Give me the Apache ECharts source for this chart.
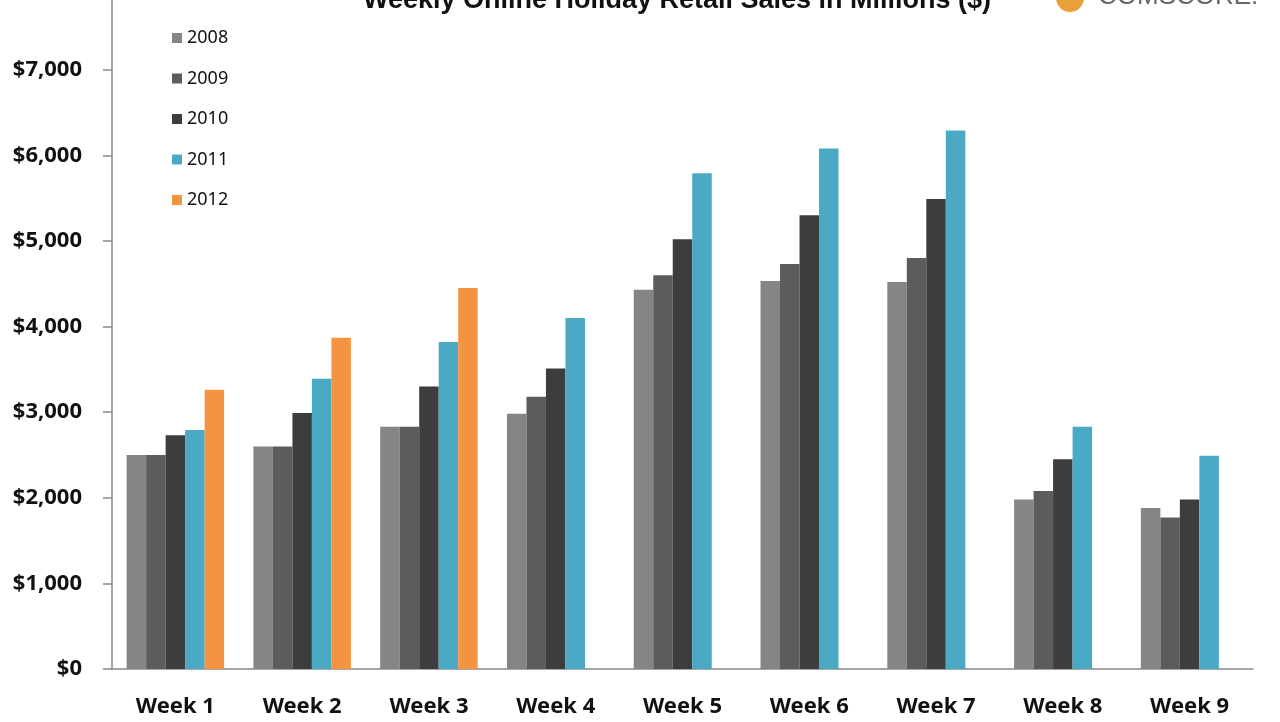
<!DOCTYPE html>
<html lang="en">
<head>
    <meta charset="UTF-8">
    <title>Weekly Online Holiday Retail Sales</title>
    <script src="https://cdn.jsdelivr.net/npm/echarts@6/dist/echarts.min.js"></script>
    <style>
        html, body { margin: 0; padding: 0; background: #fff; }
        #chart { width: 1280px; height: 722px; }
    </style>
</head>
<body>
    <div id="chart"></div>
    <script>
        // data (millions of $)
        var weeks = ['Week 1', 'Week 2', 'Week 3', 'Week 4', 'Week 5', 'Week 6', 'Week 7', 'Week 8', 'Week 9'];
        var years = ['2008', '2009', '2010', '2011', '2012'];
        var sales2008 = [2500, 2600, 2830, 2980, 4430, 4530, 4520, 1980, 1880];
        var sales2009 = [2500, 2600, 2830, 3180, 4600, 4730, 4800, 2080, 1770];
        var sales2010 = [2730, 2990, 3300, 3510, 5020, 5300, 5490, 2450, 1980];
        var sales2011 = [2790, 3390, 3820, 4100, 5790, 6080, 6290, 2830, 2490];
        var sales2012 = [3260, 3870, 4450, null, null, null, null, null, null];
        var yTicks = [0, 1000, 2000, 3000, 4000, 5000, 6000, 7000, 8000];

        var colors = ['#858585', '#5c5c5c', '#3d3d3d', '#4aa9c4', '#f59440'];
        var allSales = [sales2008, sales2009, sales2010, sales2011, sales2012];

        var chart = echarts.init(document.getElementById('chart'));

        var series = years.map(function (y, i) {
            return {
                name: y,
                type: 'bar',
                data: allSales[i],
                barWidth: 19.5,
                barGap: '0%',
                itemStyle: { color: colors[i] }
            };
        });

        chart.setOption({
            animation: false,
            color: colors,
            title: {
                text: 'Weekly Online Holiday Retail Sales in Millions ($)',
                left: 672,
                textAlign: 'center',
                top: -18,
                textStyle: { fontFamily: 'Liberation Sans', fontWeight: 'bold', fontSize: 27, color: '#111' }
            },
            legend: {
                orient: 'vertical',
                left: 167,
                top: 23,
                icon: 'rect',
                itemWidth: 10,
                itemHeight: 10,
                itemGap: 20.5,
                data: years,
                textStyle: { fontFamily: 'Noto Sans', fontSize: 18, color: '#111', lineHeight: 20 }
            },
            graphic: [
                {
                    type: 'circle',
                    shape: { cx: 1070, cy: -2, r: 14 },
                    style: { fill: '#e8a13a' }
                },
                {
                    type: 'text',
                    left: 1098,
                    top: -16,
                    style: { text: 'COMSCORE.', fill: '#666', font: '26px Liberation Sans' }
                }
            ],
            grid: { left: 112, right: 27, top: -16, bottom: 53, outerBoundsMode: 'none' },
            xAxis: {
                type: 'category',
                data: weeks,
                axisLine: { lineStyle: { color: '#888', width: 1.5 } },
                axisTick: { length: 8, lineStyle: { color: '#888', width: 1.5 } },
                axisLabel: {
                    margin: 27,
                    fontFamily: 'Noto Sans',
                    fontWeight: 'bold',
                    fontSize: 22,
                    color: '#111'
                }
            },
            yAxis: {
                type: 'value',
                min: yTicks[0],
                max: yTicks[yTicks.length - 1],
                interval: 1000,
                axisLine: { show: true, lineStyle: { color: '#888', width: 1.5 } },
                axisTick: { show: true, length: 9, lineStyle: { color: '#888', width: 1.5 } },
                splitLine: { show: false },
                axisLabel: {
                    margin: 30,
                    fontFamily: 'Noto Sans',
                    fontWeight: 'bold',
                    fontSize: 22,
                    color: '#111',
                    formatter: function (v) {
                        return '$' + v.toLocaleString('en-US');
                    }
                }
            },
            series: series
        });
    </script>
</body>
</html>
